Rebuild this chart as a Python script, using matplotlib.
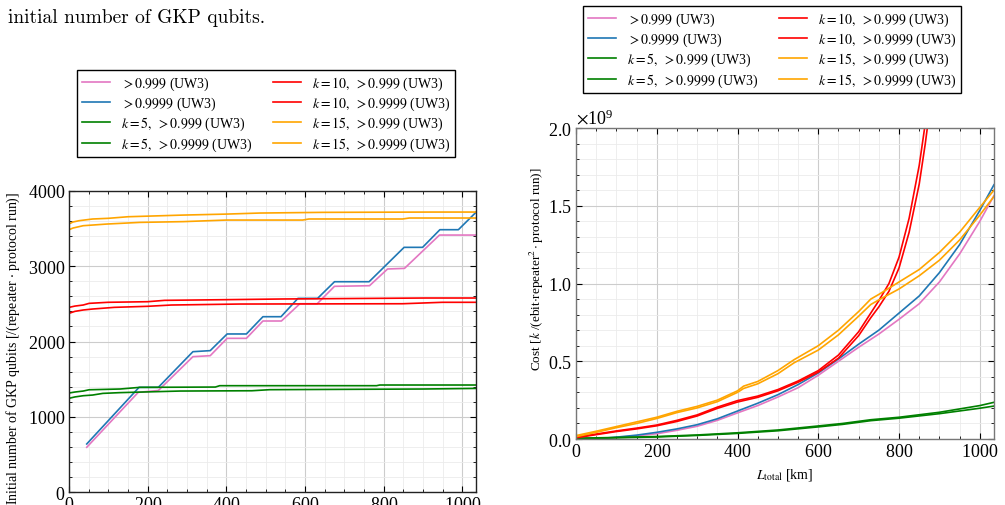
import matplotlib.pyplot as plt
from matplotlib.ticker import MultipleLocator

plt.rcParams["font.family"] = "serif"
plt.rcParams["font.serif"] = ["Liberation Serif", "DejaVu Serif"]
plt.rcParams["mathtext.fontset"] = "stix"
plt.rcParams["axes.formatter.use_mathtext"] = True

labels = ["$>0.999$ (UW3)", "$>0.9999$ (UW3)",
          "$k=5,\\ >0.999$ (UW3)", "$k=5,\\ >0.9999$ (UW3)",
          "$k=10,\\ >0.999$ (UW3)", "$k=10,\\ >0.9999$ (UW3)",
          "$k=15,\\ >0.999$ (UW3)", "$k=15,\\ >0.9999$ (UW3)"]
colors = ["#e377c2", "#1f77b4", "green", "green", "red", "red", "orange", "orange"]

# ---- left panel: initial number of GKP qubits ----
x_uw999 = [45, 176, 227, 315, 359, 402, 451, 493, 540, 587, 631, 675, 764, 810, 853, 942, 1035]
y_uw999 = [597, 1326, 1350, 1799, 1812, 2042, 2042, 2272, 2272, 2501, 2501, 2732, 2740, 2962, 2970, 3412, 3412]
x_uw9999 = [45, 178, 227, 315, 359, 402, 451, 493, 539, 582, 632, 675, 763, 852, 899, 943, 990, 1035]
y_uw9999 = [641, 1392, 1392, 1865, 1879, 2100, 2100, 2329, 2329, 2572, 2572, 2793, 2793, 3249, 3249, 3483, 3483, 3715]
x_k5_999 = [0, 15, 36, 60, 86, 130, 282, 465, 510, 900, 1035]
y_k5_999 = [1247, 1265, 1281, 1290, 1312, 1322, 1343, 1347, 1361, 1370, 1378]
x_k5_9999 = [0, 15, 36, 51, 130, 180, 372, 383, 782, 790, 1035]
y_k5_9999 = [1317, 1330, 1343, 1360, 1370, 1392, 1396, 1414, 1414, 1423, 1423]
x_k10_999 = [0, 15, 36, 60, 115, 200, 260, 433, 848, 949, 1035]
y_k10_999 = [2374, 2400, 2418, 2431, 2453, 2467, 2484, 2497, 2501, 2520, 2520]
x_k10_9999 = [0, 15, 36, 51, 99, 200, 243, 400, 543, 908, 1035]
y_k10_9999 = [2453, 2470, 2484, 2506, 2520, 2528, 2546, 2555, 2564, 2577, 2577]
x_k15_999 = [0, 10, 36, 96, 180, 290, 400, 594, 610, 848, 865, 1035]
y_k15_999 = [3483, 3505, 3536, 3558, 3580, 3590, 3611, 3611, 3625, 3625, 3638, 3638]
x_k15_9999 = [0, 10, 25, 60, 100, 150, 290, 400, 485, 645, 925, 1035]
y_k15_9999 = [3560, 3585, 3602, 3625, 3634, 3655, 3677, 3690, 3704, 3713, 3717, 3717]

# ---- right panel: cost (units of 1e9) ----
xc_uw = [45, 100, 150, 200, 250, 300, 350, 400, 450, 500, 550, 600, 650, 700, 750, 800, 850, 900, 950, 1000, 1035]
c_uw999 = [0.0, 0.010, 0.020, 0.034, 0.056, 0.082, 0.120, 0.168, 0.215, 0.270, 0.330, 0.410, 0.500, 0.590,
           0.675, 0.770, 0.870, 1.010, 1.190, 1.400, 1.565]
c_uw9999 = [0.0, 0.012, 0.025, 0.043, 0.065, 0.092, 0.130, 0.180, 0.230, 0.285, 0.350, 0.425, 0.515, 0.610,
            0.700, 0.810, 0.920, 1.070, 1.250, 1.470, 1.635]
xc_k5 = [0, 100, 200, 300, 400, 500, 600, 660, 730, 800, 900, 1000, 1035]
c_k5_999 = [0.003, 0.008, 0.013, 0.023, 0.036, 0.053, 0.078, 0.094, 0.118, 0.134, 0.163, 0.198, 0.212]
c_k5_9999 = [0.005, 0.010, 0.016, 0.026, 0.040, 0.058, 0.084, 0.100, 0.124, 0.140, 0.172, 0.215, 0.236]
xc_k10 = [0, 50, 100, 150, 200, 250, 300, 350, 400, 450, 500, 550, 600, 650, 700, 730, 750, 775, 800, 825,
          850, 865, 880, 895]
c_k10_999 = [0.008, 0.028, 0.048, 0.065, 0.085, 0.113, 0.148, 0.197, 0.238, 0.268, 0.310, 0.365, 0.430, 0.520,
             0.665, 0.780, 0.850, 0.950, 1.100, 1.330, 1.640, 1.900, 2.200, 2.600]
c_k10_9999 = [0.012, 0.032, 0.052, 0.070, 0.090, 0.120, 0.155, 0.205, 0.247, 0.276, 0.318, 0.373, 0.440, 0.540,
              0.690, 0.810, 0.890, 1.000, 1.170, 1.420, 1.760, 2.030, 2.350, 2.800]
xc_k15 = [0, 50, 100, 150, 200, 250, 300, 350, 400, 415, 450, 500, 540, 600, 650, 700, 730, 750, 800, 850,
          900, 950, 1000, 1035]
c_k15_999 = [0.015, 0.043, 0.073, 0.100, 0.132, 0.170, 0.200, 0.240, 0.300, 0.325, 0.355, 0.420, 0.490, 0.572,
             0.670, 0.790, 0.865, 0.895, 0.965, 1.050, 1.150, 1.280, 1.440, 1.560]
c_k15_9999 = [0.022, 0.050, 0.080, 0.110, 0.140, 0.178, 0.210, 0.250, 0.310, 0.340, 0.370, 0.440, 0.510, 0.600,
              0.700, 0.820, 0.900, 0.930, 1.010, 1.090, 1.200, 1.330, 1.490, 1.600]

left_series = [(x_uw999, y_uw999), (x_uw9999, y_uw9999), (x_k5_999, y_k5_999), (x_k5_9999, y_k5_9999),
               (x_k10_999, y_k10_999), (x_k10_9999, y_k10_9999), (x_k15_999, y_k15_999),
               (x_k15_9999, y_k15_9999)]
right_series = [(xc_uw, c_uw999), (xc_uw, c_uw9999), (xc_k5, c_k5_999), (xc_k5, c_k5_9999),
                (xc_k10, c_k10_999), (xc_k10, c_k10_9999), (xc_k15, c_k15_999), (xc_k15, c_k15_9999)]


def style(ax, spine_color):
    ax.tick_params(which="both", direction="in", top=True, right=True, labelsize=13, pad=3)
    ax.tick_params(which="major", length=4)
    ax.tick_params(which="minor", length=2)
    ax.grid(which="major", color="#cccccc", lw=0.8)
    ax.grid(which="minor", color="#ebebeb", lw=0.6)
    ax.set_axisbelow(True)
    for s in ax.spines.values():
        s.set_color(spine_color)
        s.set_linewidth(1.0)


def add_legend(ax, x0, y0):
    leg = ax.legend(ncol=2, fontsize=10, loc="upper left", bbox_to_anchor=(x0 / 1005, 1 - y0 / 506),
                    bbox_transform=fig.transFigure, borderaxespad=0, fancybox=False, framealpha=1,
                    edgecolor="black", handlelength=2.0, handletextpad=0.8, labelspacing=0.2,
                    columnspacing=1.5, borderpad=0.35)
    leg.get_frame().set_linewidth(1.0)


fig = plt.figure(figsize=(10.05, 5.06), dpi=100)
fig.text(0.008, 0.955, "initial number of GKP qubits.", fontsize=14, family="cmr10")

ax1 = fig.add_axes([0.0687, 0.0251, 0.405, 0.596])
for (x, y), c, lab in zip(left_series, colors, labels):
    ax1.plot(x, y, color=c, lw=1.2, label=lab)
ax1.set_xlim(0, 1035)
ax1.set_ylim(0, 4000)
ax1.xaxis.set_major_locator(MultipleLocator(200))
ax1.xaxis.set_minor_locator(MultipleLocator(50))
ax1.yaxis.set_major_locator(MultipleLocator(1000))
ax1.yaxis.set_minor_locator(MultipleLocator(200))
style(ax1, "#222222")
ax1.set_ylabel(r"Initial number of GKP qubits [/(repeater $\cdot$ protocol run)]", fontsize=10)
ax1.yaxis.set_label_coords(-0.115, 0.48)
add_legend(ax1, 77, 71)

ax2 = fig.add_axes([0.5731, 0.1304, 0.4159, 0.6146])
for (x, y), c, lab in zip(right_series, colors, labels):
    ax2.plot(x, [v * 1e9 for v in y], color=c, lw=1.2, label=lab)
ax2.set_xlim(0, 1035)
ax2.set_ylim(0, 2e9)
ax2.xaxis.set_major_locator(MultipleLocator(200))
ax2.xaxis.set_minor_locator(MultipleLocator(50))
ax2.yaxis.set_major_locator(MultipleLocator(0.5e9))
ax2.yaxis.set_minor_locator(MultipleLocator(0.1e9))
ax2.ticklabel_format(axis="y", style="sci", scilimits=(9, 9), useMathText=True)
ax2.yaxis.get_offset_text().set_fontsize(13)
style(ax2, "#777777")
ax2.set_xlabel(r"$L_\mathrm{total}$ [km]", fontsize=10, labelpad=4)
ax2.set_ylabel(r"Cost [$k$ /(ebit$\cdot$repeater$^2\cdot$protocol run)]", fontsize=9.5)
ax2.yaxis.set_label_coords(-0.072, 0.55)
add_legend(ax2, 583, 7)

fig.savefig("out.png", dpi=100)
